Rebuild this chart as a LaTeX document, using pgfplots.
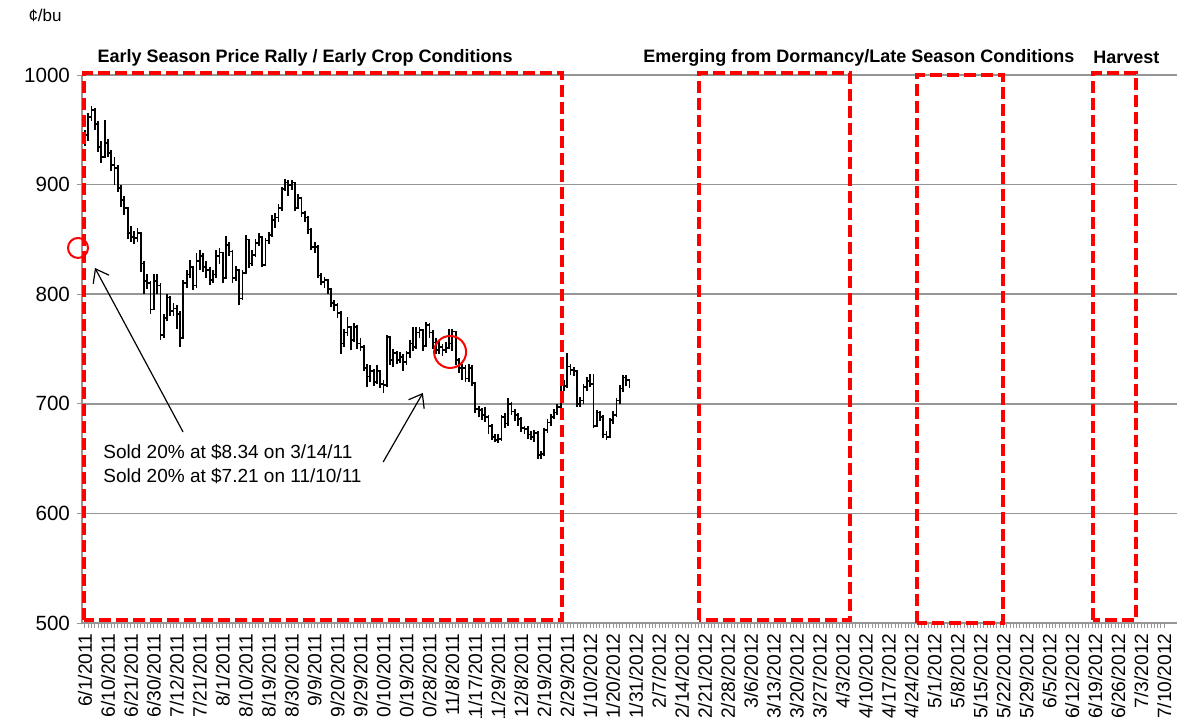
\documentclass[border=0pt]{standalone}
\usepackage{fontspec}
\setmainfont{Liberation Sans}
\usepackage{pgfplots}
\usepackage{pgfplotstable}
\pgfplotsset{compat=1.18}
\usetikzlibrary{arrows.meta}
\definecolor{gridgray}{RGB}{150,150,150}

% trading day index, close, high, low (cents/bu)
\pgfplotstableread{
i c h l
0 945 950 935
1 962 965 940
2 968 972 958
3 955 970 950
4 934 958 930
5 925 940 920
6 938 959 925
7 929 942 925
8 918 932 912
9 915 925 900
10 897 918 893
11 886 900 880
12 879 890 872
13 856 880 850
14 852 862 848
15 851 858 846
16 856 860 848
17 828 856 820
18 812 830 800
19 810 818 805
20 786 812 782
21 812 818 790
22 808 818 800
23 763 810 758
24 778 782 760
25 797 800 776
26 785 798 780
27 787 792 780
28 782 790 768
29 760 785 752
30 810 813 760
31 818 822 806
32 825 831 815
33 808 826 804
34 830 838 806
35 835 840 822
36 825 838 820
37 822 830 815
38 813 825 808
39 818 822 810
40 835 840 815
41 838 842 828
42 815 838 810
43 845 853 815
44 839 848 835
45 815 840 810
46 822 826 812
47 796 822 790
48 819 822 795
49 850 854 818
50 828 850 824
51 836 840 826
52 847 850 834
53 852 856 844
54 827 852 825
55 849 851 826
56 854 857 846
57 868 872 852
58 870 874 860
59 879 882 866
60 896 898 876
61 902 905 894
62 900 904 890
63 902 904 895
64 879 902 876
65 888 891 878
66 874 889 870
67 870 876 866
68 859 871 855
69 843 860 840
70 843 848 838
71 817 845 815
72 811 819 808
73 813 816 806
74 805 814 800
75 792 806 788
76 790 795 785
77 783 792 778
78 755 785 745
79 765 768 752
80 770 779 762
81 758 770 749
82 770 774 756
83 755 772 750
84 752 760 748
85 733 754 730
86 725 736 715
87 730 735 720
88 720 732 716
89 730 735 718
90 718 731 714
91 717 722 710
92 761 763 715
93 740 762 735
94 746 750 734
95 740 748 736
96 743 747 737
97 738 745 730
98 746 748 735
99 755 758 742
100 752 770 748
101 765 770 750
102 767 770 760
103 753 768 748
104 772 775 752
105 765 774 760
106 756 767 750
107 749 760 745
108 752 758 745
109 749 755 744
110 751 756 746
111 755 768 750
112 766 768 748
113 740 766 735
114 733 742 728
115 733 736 722
116 723 735 720
117 733 736 720
118 719 735 716
119 695 720 692
120 694 698 688
121 690 696 685
122 688 697 683
123 680 690 672
124 670 682 667
125 667 672 665
126 668 672 664
127 688 690 666
128 682 692 678
129 700 705 680
130 693 702 690
131 690 695 684
132 686 692 680
133 678 688 674
134 677 680 672
135 672 680 668
136 670 675 667
137 673 676 665
138 653 675 650
139 654 657 650
140 676 678 652
141 683 686 673
142 688 691 680
143 692 695 686
144 697 700 690
145 718 722 697
146 716 722 712
147 734 746 714
148 731 736 726
149 730 734 725
150 700 731 697
151 703 706 697
152 715 718 700
153 721 724 712
154 718 727 715
155 680 727 678
156 692 694 680
157 688 693 684
158 672 690 669
159 670 675 667
160 685 687 670
161 690 693 682
162 703 705 688
163 714 717 700
164 724 726 711
165 722 726 716
166 716 722 714
}\prices

\begin{document}
\begin{tikzpicture}
\begin{axis}[
  scale only axis,
  width=547.5pt, height=274pt,
  xmin=-0.91, xmax=332.9,
  ymin=500, ymax=1000,
  axis x line*=bottom, axis y line*=left,
  axis line style={gridgray, line width=0.75pt},
  ytick={500,600,...,1000},
  ymajorgrids,
  grid style={gridgray, line width=0.75pt},
  xtick={0,7,...,329},
  xticklabels={6/1/2011,6/10/2011,6/21/2011,6/30/2011,7/12/2011,7/21/2011,8/1/2011,8/10/2011,8/19/2011,8/30/2011,9/9/2011,9/20/2011,9/29/2011,10/10/2011,10/19/2011,10/28/2011,11/8/2011,11/17/2011,11/29/2011,12/8/2011,12/19/2011,12/29/2011,1/10/2012,1/20/2012,1/31/2012,2/7/2012,2/14/2012,2/21/2012,2/28/2012,3/6/2012,3/13/2012,3/20/2012,3/27/2012,4/3/2012,4/10/2012,4/17/2012,4/24/2012,5/1/2012,5/8/2012,5/15/2012,5/22/2012,5/29/2012,6/5/2012,6/12/2012,6/19/2012,6/26/2012,7/3/2012,7/10/2012},
  minor x tick num=6,
  tick align=outside,
  major tick length=2.5pt, minor tick length=2.5pt,
  tick style={gridgray, line width=0.5pt},
  x tick label style={rotate=90, anchor=east, font=\fontsize{9.6}{11}\selectfont, inner sep=2.5pt},
  y tick label style={font=\fontsize{10.3}{12}\selectfont},
  /pgf/number format/assume math mode=true,
  /pgf/number format/1000 sep={},
  clip=false,
]
\addplot[const plot, black, line width=0.9pt, no marks,
  error bars/.cd, y dir=both, y explicit,
  error bar style={line width=0.9pt, black}, error mark=none]
  table[x=i, y=c, y error plus expr=\thisrow{h}-\thisrow{c}, y error minus expr=\thisrow{c}-\thisrow{l}] {\prices};

% season boxes
\draw[red, dash pattern=on 6pt off 2.5pt, line width=2pt] (axis cs:-0.3,503) rectangle (axis cs:145.4,1002);
\draw[red, dash pattern=on 6pt off 2.5pt, line width=2pt] (axis cs:187.2,503) rectangle (axis cs:233.2,1002);
\draw[red, dash pattern=on 6pt off 2.5pt, line width=2pt] (axis cs:253.7,500) rectangle (axis cs:279.9,1000);
\draw[red, dash pattern=on 6pt off 2.5pt, line width=2pt] (axis cs:307.3,503) rectangle (axis cs:320.4,1002);

\node[anchor=west, inner sep=0pt, font=\bfseries\fontsize{9}{11}\selectfont] at (axis cs:3.7,1016) {Early Season Price Rally / Early Crop Conditions};
\node[anchor=west, inner sep=0pt, font=\bfseries\fontsize{9}{11}\selectfont] at (axis cs:170.1,1016) {Emerging from Dormancy/Late Season Conditions};
\node[anchor=west, inner sep=0pt, font=\bfseries\fontsize{9}{11}\selectfont] at (axis cs:307.3,1016) {Harvest};

% sales
\draw[red, line width=1pt] (axis cs:-2.13,842.2) circle[radius=5pt];
\draw[red, line width=1pt] (axis cs:111.3,747.3) circle[radius=8pt];
\draw[black, line width=0.6pt, -{Straight Barb[length=6pt, width=9pt]}] (axis cs:29.9,674.3) -- (axis cs:3.05,823.9);
\draw[black, line width=0.6pt, -{Straight Barb[length=6pt, width=9pt]}] (axis cs:90.9,646.9) -- (axis cs:103,709.9);
\node[anchor=west, inner sep=0pt, font=\fontsize{9.5}{11}\selectfont] at (axis cs:5.5,656) {Sold 20\% at \$8.34 on 3/14/11};
\node[anchor=west, inner sep=0pt, font=\fontsize{9.5}{11}\selectfont] at (axis cs:5.5,634) {Sold 20\% at \$7.21 on 11/10/11};
\end{axis}
\node[anchor=east, inner sep=0pt, font=\fontsize{8.5}{10}\selectfont] at (-10pt,304pt) {¢/bu};
\pgfresetboundingbox
\path (-41pt,-47pt) rectangle (550pt,311.5pt);
\end{tikzpicture}
\end{document}
